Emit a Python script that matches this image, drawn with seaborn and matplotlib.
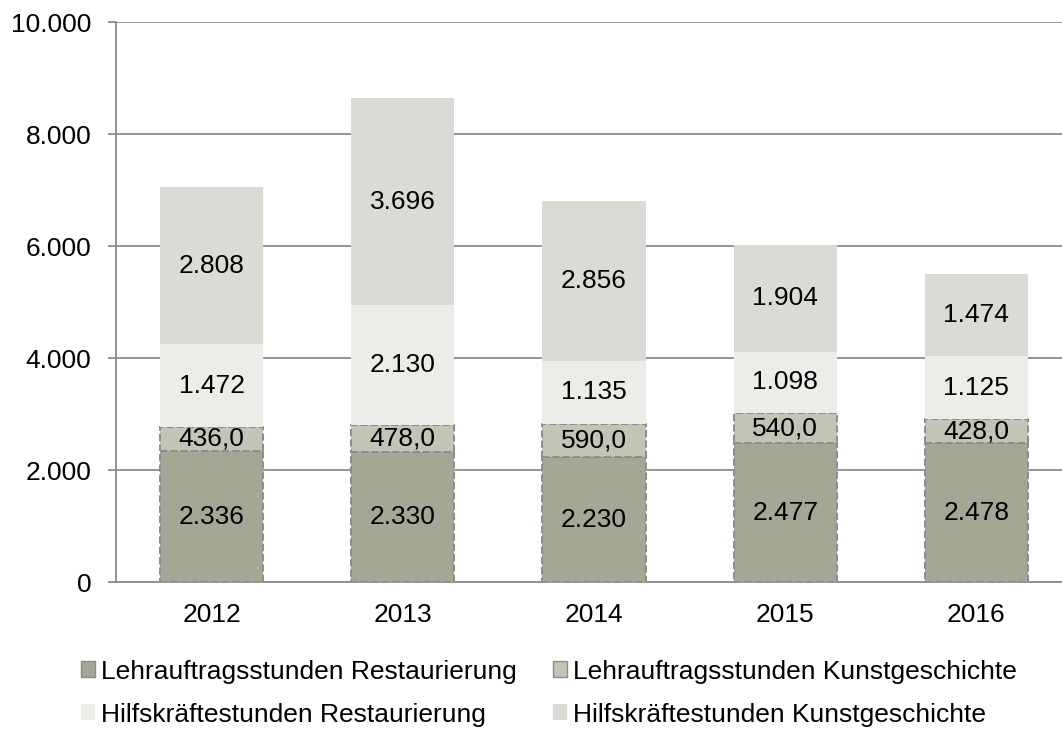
import numpy as np
import matplotlib
matplotlib.use("Agg")
import matplotlib.pyplot as plt
import seaborn as sns
from matplotlib.patches import Patch

years = ["2012", "2013", "2014", "2015", "2016"]
lehr_rest = [2336, 2330, 2230, 2477, 2478]
lehr_kunst = [436, 478, 590, 540, 428]
hilf_rest = [1472, 2130, 1135, 1098, 1125]
hilf_kunst = [2808, 3696, 2856, 1904, 1474]

series_names = ["Lehrauftragsstunden Restaurierung", "Lehrauftragsstunden Kunstgeschichte",
                "Hilfskräftestunden Restaurierung", "Hilfskräftestunden Kunstgeschichte"]
colors = ["#a5a693", "#c3c4b6", "#ecede8", "#dadbd5"]

sns.set_style("white")
plt.rcParams['font.family'] = ['Liberation Sans', 'DejaVu Sans']
plt.rcParams['text.color'] = 'black'

fig = plt.figure(figsize=(10.62, 7.30), dpi=100)
ax = fig.add_axes([116 / 1062, 1 - 582 / 730, 956 / 1062, 560 / 730])

all_series = [lehr_rest, lehr_kunst, hilf_rest, hilf_kunst]
bottom = np.zeros(len(years))
for i, vals in enumerate(all_series):
    dashed = i < 2
    sns.barplot(x=years, y=vals, bottom=bottom, color=colors[i], saturation=1,
                width=0.54, ax=ax, zorder=3,
                edgecolor="#8c8c8c" if dashed else "none",
                linewidth=1.4 if dashed else 0,
                linestyle="--" if dashed else "-")
    for j, v in enumerate(vals):
        if i == 1:
            txt = f"{v:.1f}".replace(".", ",")
        else:
            txt = f"{v:,.0f}".replace(",", ".")
        ax.text(j, bottom[j] + v / 2, txt, ha="center", va="center",
                fontsize=19, color="black", zorder=5)
    bottom = bottom + np.array(vals)

ax.set_xlim(-0.5, 4.5)
ax.set_ylim(0, 10000)
ax.set_yticks([0, 2000, 4000, 6000, 8000, 10000])
ax.set_yticklabels(["0", "2.000", "4.000", "6.000", "8.000", "10.000"])
ax.yaxis.grid(True, color="#8c8c8c", linewidth=1.3, zorder=0)
ax.set_axisbelow(True)
ax.set_xlabel("")
ax.set_ylabel("")

ax.set_xticks(np.arange(-0.5, 5, 1), minor=True)
ax.tick_params(axis="x", which="major", length=0, pad=15, labelsize=19, labelcolor="black")
ax.tick_params(axis="x", which="minor", length=5.8, width=1.3, color="#8c8c8c", direction="out")
ax.tick_params(axis="y", length=5.8, width=1.3, color="#8c8c8c", labelsize=19,
               labelcolor="black", pad=12, direction="out", left=True)

for side in ["top", "right"]:
    ax.spines[side].set_visible(False)
for side in ["left", "bottom"]:
    ax.spines[side].set_color("#8c8c8c")
    ax.spines[side].set_linewidth(1.3)

handles = [Patch(facecolor=colors[0], edgecolor="#8c8c8c"),
           Patch(facecolor=colors[2], edgecolor="none"),
           Patch(facecolor=colors[1], edgecolor="#8c8c8c"),
           Patch(facecolor=colors[3], edgecolor="none")]
labels = [series_names[0], series_names[2], series_names[1], series_names[3]]
fig.legend(handles, labels, ncol=2, loc="upper left", bbox_to_anchor=(70 / 1062, 1 - 649 / 730),
           frameon=False, fontsize=19, handlelength=0.53, handleheight=0.53,
           handletextpad=0.23, columnspacing=1.4, labelspacing=0.72, borderaxespad=0,
           labelcolor="black")

fig.savefig("out.png", dpi=100)
